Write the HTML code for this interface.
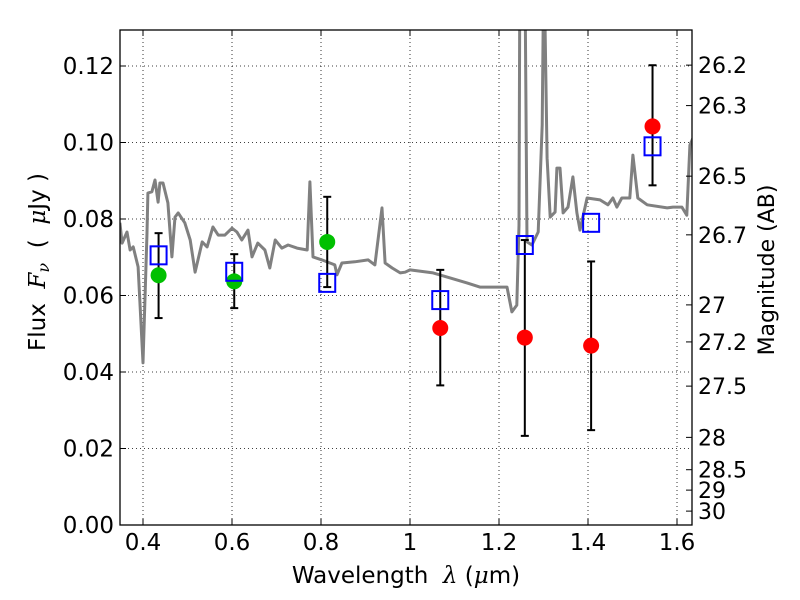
<!DOCTYPE html>
<html><head><meta charset="utf-8"><style>
body{margin:0;background:#fff}
svg{display:block;font-family:"DejaVu Sans","Liberation Sans",sans-serif}
</style></head><body>
<svg id="chart" width="800" height="600" viewBox="0 0 800 600" xmlns="http://www.w3.org/2000/svg">
<rect width="800" height="600" fill="#fff"/>
<defs><clipPath id="clip"><rect x="120" y="30" width="572" height="495"/></clipPath></defs>
<g id="grid"></g>
<g id="marks" clip-path="url(#clip)"></g>
<g id="pts"></g>
<rect x="120" y="30" width="572" height="495" fill="none" stroke="#000" stroke-width="1.3"/>
<g id="axes"></g>
<text x="406" y="583" font-size="23" text-anchor="middle">Wavelength&#160;&#160;<tspan font-family="DejaVu Serif" font-style="italic">λ</tspan> (<tspan font-family="DejaVu Serif" font-style="italic">μ</tspan>m)</text>
<text transform="translate(45,262) rotate(-90)" font-size="23" text-anchor="middle">Flux&#160;&#160;<tspan font-family="DejaVu Serif" font-style="italic">F<tspan font-size="16" dy="4">ν</tspan></tspan><tspan dy="-4">&#160;&#160;(&#160;&#160;</tspan><tspan font-family="DejaVu Serif" font-style="italic">μ</tspan>Jy )</text>
<text transform="translate(774,270) rotate(-90)" font-size="22" text-anchor="middle">Magnitude (AB)</text>
</svg>
<script>
const specWave=[0.348,0.353,0.364,0.371,0.378,0.389,0.393,0.400,0.409,0.411,0.420,0.427,0.434,0.438,0.445,0.456,0.465,0.472,0.479,0.494,0.506,0.517,0.533,0.544,0.557,0.569,0.584,0.600,0.611,0.622,0.636,0.645,0.658,0.674,0.685,0.697,0.712,0.726,0.746,0.769,0.775,0.782,0.802,0.831,0.836,0.847,0.876,0.906,0.921,0.937,0.944,0.960,0.978,0.989,1.000,1.052,1.090,1.128,1.157,1.218,1.229,1.240,1.245,1.247,1.258,1.263,1.274,1.288,1.297,1.301,1.308,1.315,1.326,1.330,1.337,1.344,1.355,1.366,1.375,1.382,1.398,1.427,1.445,1.456,1.465,1.476,1.494,1.501,1.512,1.533,1.578,1.591,1.611,1.622,1.629,1.636];
const specFlux=[0.0790,0.0737,0.0766,0.0719,0.0727,0.0675,0.0583,0.0424,0.0763,0.0868,0.0871,0.0902,0.0844,0.0894,0.0894,0.0842,0.0701,0.0805,0.0816,0.0790,0.0745,0.0661,0.0740,0.0727,0.0779,0.0758,0.0758,0.0776,0.0766,0.0745,0.0771,0.0701,0.0737,0.0719,0.0672,0.0745,0.0724,0.0732,0.0724,0.0719,0.0897,0.0701,0.0693,0.0680,0.0654,0.0685,0.0688,0.0693,0.0680,0.0829,0.0685,0.0672,0.0659,0.0661,0.0667,0.0659,0.0646,0.0633,0.0622,0.0622,0.0557,0.0575,0.0784,0.15,0.15,0.0740,0.0732,0.0766,0.1046,0.15,0.0959,0.0805,0.0818,0.0933,0.0933,0.0816,0.0831,0.0910,0.0816,0.0771,0.0855,0.0850,0.0837,0.0855,0.0831,0.0855,0.0855,0.0967,0.0855,0.0837,0.0829,0.0831,0.0831,0.0810,0.0993,0.1012];
const obsWave=[0.435,0.605,0.814,1.068,1.258,1.407,1.545];
const obsFlux=[0.0653,0.0637,0.0740,0.0515,0.0490,0.0469,0.1042];
const errLow=[0.0541,0.0567,0.0622,0.0365,0.0233,0.0248,0.0888];
const errHigh=[0.0763,0.0708,0.0858,0.0667,0.0745,0.0689,0.1202];
const pointColor=["#00c000","#00c000","#00c000","#ff0000","#ff0000","#ff0000","#ff0000"];
const modelFlux=[0.0705,0.0662,0.0633,0.0588,0.0732,0.0790,0.0990];
const xTicks=[0.4,0.6,0.8,1.0,1.2,1.4,1.6];
const xTickLabels=["0.4","0.6","0.8","1","1.2","1.4","1.6"];
const yTicks=[0,0.02,0.04,0.06,0.08,0.10,0.12];
const yTickLabels=["0.00","0.02","0.04","0.06","0.08","0.10","0.12"];
const magTicks=[26.2,26.3,26.5,26.7,27,27.2,27.5,28,28.5,29,30];
const magLabels=["26.2","26.3","26.5","26.7","27","27.2","27.5","28","28.5","29","30"];

const NS="http://www.w3.org/2000/svg";
const X0=120,X1=692,Y0=525,Y1=30,xmin=0.3483,xmax=1.6337,ymin=0,ymax=0.12941;
const sx=v=>X0+(v-xmin)/(xmax-xmin)*(X1-X0);
const sy=v=>Y0-(v-ymin)/(ymax-ymin)*(Y0-Y1);
const magToFlux=m=>Math.pow(10,(23.9-m)/2.5);
function mk(tag,attrs,parent){const e=document.createElementNS(NS,tag);for(const k in attrs)e.setAttribute(k,attrs[k]);parent.appendChild(e);return e;}
const grid=document.getElementById('grid'),marks=document.getElementById('marks'),pts=document.getElementById('pts'),axes=document.getElementById('axes');

xTicks.forEach((t,i)=>{
  const x=sx(t);
  const g=mk('line',{x1:x,x2:x,y1:Y1,y2:Y0,stroke:'#000','stroke-width':0.8,'stroke-dasharray':'1,3'},grid);
  
  
  mk('line',{x1:x,x2:x,y1:Y0,y2:Y0-6,stroke:'#000','stroke-width':1},axes);
  mk('line',{x1:x,x2:x,y1:Y1,y2:Y1+6,stroke:'#000','stroke-width':1},axes);
  const tx=mk('text',{x:x,y:Y0+25,'font-size':23,'text-anchor':'middle'},axes);
  tx.textContent=xTickLabels[i];
  
  
});
yTicks.forEach((t,i)=>{
  const y=sy(t);
  const g=mk('line',{x1:X0,x2:X1,y1:y,y2:y,stroke:'#000','stroke-width':0.8,'stroke-dasharray':'1,3'},grid);
  
  
  mk('line',{x1:X0,x2:X0+6,y1:y,y2:y,stroke:'#000','stroke-width':1},axes);
  const tx=mk('text',{x:X0-6,y:y+8,'font-size':23,'text-anchor':'end'},axes);
  tx.textContent=yTickLabels[i];
  
  
});
magTicks.forEach((m,i)=>{
  const y=sy(magToFlux(m));
  mk('line',{x1:X1-6,x2:X1,y1:y,y2:y,stroke:'#000','stroke-width':1},axes);
  const tx=mk('text',{x:X1+6,y:y+8,'font-size':22},axes);
  tx.textContent=magLabels[i];
  
  
});
const d=specWave.map((w,i)=>(i?'L':'M')+sx(w).toFixed(1)+','+sy(specFlux[i]).toFixed(1)).join('');
const sp=mk('path',{d:d,fill:'none',stroke:'#808080','stroke-width':3,'stroke-linejoin':'round'},marks);



obsWave.forEach((w,i)=>{
  const x=sx(w);
  const e=mk('g',{},pts);
  
  
  mk('line',{x1:x,x2:x,y1:sy(errLow[i]),y2:sy(errHigh[i]),stroke:'#000','stroke-width':2},e);
  mk('line',{x1:x-4,x2:x+4,y1:sy(errLow[i]),y2:sy(errLow[i]),stroke:'#000','stroke-width':2},e);
  mk('line',{x1:x-4,x2:x+4,y1:sy(errHigh[i]),y2:sy(errHigh[i]),stroke:'#000','stroke-width':2},e);
  const c=mk('circle',{cx:x,cy:sy(obsFlux[i]),r:8,fill:pointColor[i]},pts);
  
  
  const s=mk('rect',{x:x-8,y:sy(modelFlux[i])-9,width:16,height:18,fill:'none',stroke:'#0000ff','stroke-width':2},pts);
  
  
});
</script>
</body></html>
